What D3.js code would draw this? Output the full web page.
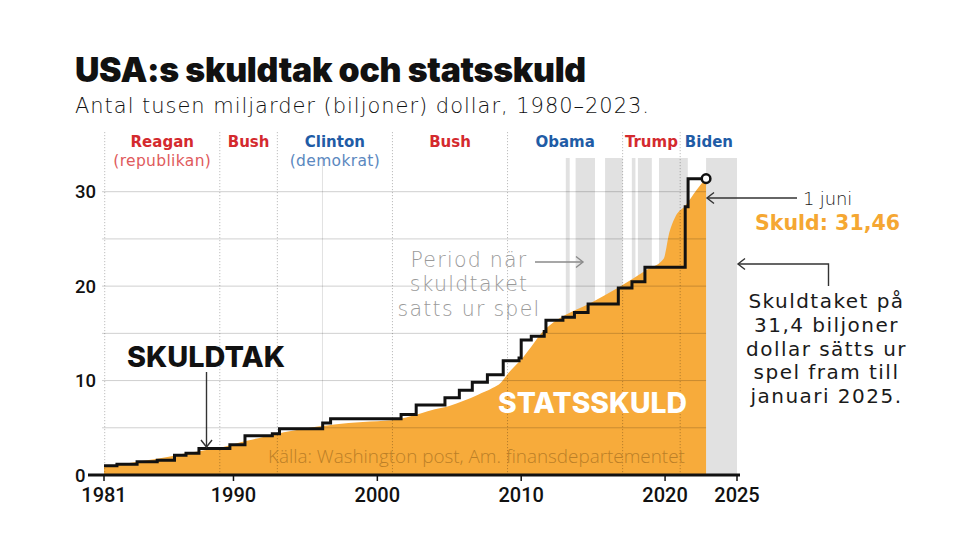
<!DOCTYPE html>
<html><head><meta charset="utf-8">
<script src="https://cdn.jsdelivr.net/npm/d3@7"></script>
<style>html,body{margin:0;padding:0;background:#fff;}svg{display:block;}</style>
</head><body>
<svg id="c" width="980" height="551"></svg>
<script>
// ---- DATA ----
const xTickYears = [1981, 1990, 2000, 2010, 2020, 2025];
const yTickValues = [0, 10, 20, 30];
const gridValues = [5, 10, 15, 20, 25, 30];
const presNames = ["Reagan", "Bush", "Clinton", "Bush", "Obama", "Trump", "Biden"];
const presParty = ["(republikan)", "", "(demokrat)", "", "", "", ""];
const presSide = ["R", "R", "D", "R", "D", "R", "D"];
const presStart = [1981.05, 1989.05, 1993.05, 2001.05, 2009.05, 2017.05, 2021.05];
const presEnd = [1989.05, 1993.05, 2001.05, 2009.05, 2017.05, 2021.05, 2025.05];
// periods when the debt ceiling was suspended [from, to]
const suspendFrom = [1996.15, 2013.10, 2013.78, 2015.83, 2017.69, 2018.11, 2019.58, 2022.85];
const suspendTo   = [1996.22, 2013.37, 2015.13, 2017.05, 2017.94, 2019.08, 2021.58, 2025.0];
// debt ceiling steps (year of change, trillion USD)
const ceilYears = [1981.0, 1981.9, 1983.3, 1984.7, 1985.9, 1986.7, 1987.6, 1989.75, 1990.8, 1992.7, 1993.2, 1996.2, 1996.75, 2001.65, 2002.7, 2004.7, 2005.7, 2006.6, 2007.65, 2008.75, 2009.85, 2010.0, 2010.7, 2011.6, 2011.72, 2012.9, 2013.7, 2014.65, 2016.75, 2017.7, 2018.6, 2021.4, 2021.6, 2022.85];
const ceilValues = [0.99, 1.14, 1.39, 1.57, 2.08, 2.3, 2.8, 3.2, 4.145, 4.37, 4.9, 5.5, 5.95, 6.4, 7.4, 8.18, 8.97, 9.82, 10.62, 12.1, 12.39, 14.29, 14.69, 15.19, 16.39, 16.7, 17.2, 18.11, 19.81, 20.46, 21.99, 28.4, 31.38, 31.38];
// federal debt (trillion USD)
const debtYears = [1981, 1982, 1983, 1984, 1985, 1986, 1987, 1988, 1989, 1990, 1991, 1992, 1993, 1994, 1995, 1996, 1997, 1998, 1999, 2000, 2001, 2002, 2003, 2004, 2005, 2006, 2007, 2008, 2008.6, 2009, 2010.15, 2011.65, 2012.9, 2014.8, 2016.7, 2018.7, 2019.9, 2020.3, 2020.7, 2021.4, 2022.2, 2022.85];
const debtValues = [0.93, 1.1, 1.32, 1.55, 1.8, 2.1, 2.37, 2.62, 2.87, 3.25, 3.65, 4.0, 4.35, 4.65, 4.92, 5.15, 5.35, 5.5, 5.62, 5.7, 5.8, 6.1, 6.5, 6.95, 7.3, 7.85, 8.5, 9.2, 9.8, 10.6, 12.5, 15.4, 16.8, 18.2, 19.8, 21.7, 22.9, 25.7, 27.3, 28.5, 30.2, 31.46];
const debtLast = 31.46;

// ---- SETUP ----
const svg = d3.select("#c");
const x = d3.scaleLinear().domain([1981, 2025]).range([104, 737]);
const y = d3.scaleLinear().domain([0, 30]).range([475, 191.7]);
const ORANGE = "#f7ab3b";
const RED = "#d42a2e", BLUE = "#1f5ca6";
const DV = "'DejaVu Sans', sans-serif";

function fit(sel, w) {
  const L = sel.node().getComputedTextLength();
  const fs = parseFloat(sel.attr("font-size"));
  sel.attr("font-size", fs * w / L);
  return w / L;
}
function spread(sel, w) {
  const L = sel.node().getComputedTextLength();
  sel.attr("letter-spacing", (w - L) / sel.text().length);
}

// title
const title = svg.append("text").attr("x", 75).attr("y", 82)
  .attr("font-family", "Inter, 'Open Sans', sans-serif").attr("font-weight", 900)
  .attr("font-size", 30).attr("fill", "#111").attr("letter-spacing", -0.3)
  .text("USA:s skuldtak och statsskuld");
fit(title, 510);
const sub = svg.append("text").attr("x", 75).attr("y", 112.5)
  .attr("font-family", DV).attr("font-weight", 300)
  .attr("font-size", 21).attr("fill", "#111")
  .text("Antal tusen miljarder (biljoner) dollar, 1980–2023.");
spread(sub, 575);

// suspension bands
const lastX = x(ceilYears[ceilYears.length - 1]);
svg.append("g").selectAll("rect").data(suspendFrom).join("rect")
  .attr("x", (d) => x(d)).attr("width", (d, i) => x(suspendTo[i]) - x(d))
  .attr("y", 158).attr("height", 475 - 158).attr("fill", "#e1e1e1");

// debt area
const debt = debtYears.map((d, i) => [d, debtValues[i]]);
svg.append("path").datum(debt)
  .attr("d", d3.area().x(d => x(d[0])).y0(y(0)).y1(d => y(d[1])).curve(d3.curveMonotoneX))
  .attr("fill", ORANGE);

// gridlines
svg.append("g").selectAll("line").data(gridValues).join("line")
  .attr("x1", 102).attr("x2", lastX).attr("y1", d => y(d)).attr("y2", d => y(d))
  .attr("stroke", "rgba(0,0,0,0.19)").attr("stroke-width", 1);

// president dotted lines
svg.append("g").selectAll("line").data(presStart).join("line")
  .attr("x1", d => x(d)).attr("x2", d => x(d)).attr("y1", 132).attr("y2", 475)
  .attr("stroke", "rgba(0,0,0,0.26)").attr("stroke-width", 1).attr("stroke-dasharray", "1.2,1.8");

// president labels
const nameG = svg.append("g").attr("font-family", DV).attr("font-weight", 700).attr("text-anchor", "middle");
const names = nameG.selectAll("text").data(presNames).join("text")
  .attr("x", (d, i) => x((presStart[i] + presEnd[i]) / 2)).attr("y", 146.5)
  .attr("font-size", 15).attr("fill", (d, i) => presSide[i] === "R" ? RED : BLUE).text(d => d);
const partyG = svg.append("g").attr("font-family", DV).attr("font-weight", 400).attr("text-anchor", "middle");
const parties = partyG.selectAll("text").data(presParty).join("text")
  .attr("x", (d, i) => x((presStart[i] + presEnd[i]) / 2)).attr("y", 165.5)
  .attr("font-size", 15.5).attr("fill", (d, i) => presSide[i] === "R" ? "#e05a5c" : "#5b88c0").text(d => d);
spread(d3.select(parties.nodes()[0]), 98);
d3.select(parties.nodes()[2]).attr("letter-spacing", d3.select(parties.nodes()[0]).attr("letter-spacing"));

// ceiling step line
const ceil = ceilYears.map((d, i) => [d, ceilValues[i]]);
svg.append("path").datum(ceil)
  .attr("d", d3.line().x(d => x(d[0])).y(d => y(d[1])).curve(d3.curveStepAfter))
  .attr("fill", "none").attr("stroke", "#111").attr("stroke-width", 3).attr("stroke-linejoin", "miter");
svg.append("circle").attr("cx", lastX).attr("cy", y(ceilValues[ceilValues.length - 1]))
  .attr("r", 4.3).attr("fill", "#fff").attr("stroke", "#111").attr("stroke-width", 2.5);

// axis baseline + ticks
svg.append("line").attr("x1", 88).attr("x2", 740).attr("y1", y(0)).attr("y2", y(0))
  .attr("stroke", "#111").attr("stroke-width", 3);
svg.append("g").selectAll("line").data(xTickYears).join("line")
  .attr("x1", d => x(d)).attr("x2", d => x(d)).attr("y1", y(0)).attr("y2", y(0) + 6)
  .attr("stroke", "#111").attr("stroke-width", 1.5);
svg.append("g").selectAll("text").data(xTickYears).join("text")
  .attr("x", d => x(d)).attr("y", 501.5).attr("text-anchor", "middle")
  .attr("font-family", "Roboto, sans-serif").attr("font-weight", 500).attr("font-size", 20)
  .attr("fill", "#111").text(d => d);
svg.append("g").selectAll("text").data(yTickValues).join("text")
  .attr("x", 75).attr("y", d => y(d)).attr("dy", "0.36em")
  .attr("font-family", "Roboto, sans-serif").attr("font-weight", 500).attr("font-size", 18.5)
  .attr("fill", "#111").text(d => d);

// arrow helper
function chevron(px, py, dir, col) {
  const s = 5.5, l = 7;
  let p;
  if (dir === "left") p = [[px + l, py - s], [px, py], [px + l, py + s]];
  else if (dir === "right") p = [[px - l, py - s], [px, py], [px - l, py + s]];
  else p = [[px - s, py - l], [px, py], [px + s, py - l]];
  svg.append("path").attr("d", d3.line()(p)).attr("fill", "none").attr("stroke", col || "#333").attr("stroke-width", 1.4);
}

// SKULDTAK
const sk = svg.append("text").attr("x", 127).attr("y", 366.7)
  .attr("font-family", "Inter, sans-serif").attr("font-weight", 800).attr("font-size", 27)
  .attr("fill", "#111").text("SKULDTAK");
fit(sk, 158);
svg.append("line").attr("x1", 206.5).attr("x2", 206.5).attr("y1", 372).attr("y2", 447)
  .attr("stroke", "#333").attr("stroke-width", 1.4);
chevron(206.5, 447, "down");

// STATSSKULD
const st = svg.append("text").attr("x", 498).attr("y", 413)
  .attr("font-family", "Inter, sans-serif").attr("font-weight", 800).attr("font-size", 27)
  .attr("fill", "#fff").text("STATSSKULD");
fit(st, 189);

// source
const src = svg.append("text").attr("x", 268).attr("y", 463)
  .attr("font-family", "'Open Sans', sans-serif").attr("font-weight", 300).attr("font-size", 16)
  .attr("fill", "#bb7f27").text("Källa: Washington post, Am. finansdepartementet");
fit(src, 417);

// multi-line text block: size chosen so lines do not collide, letter-spacing fills the width
function block(lines, cx, by, lh, fs, weight, fill, widestIdx, targetW) {
  const t = svg.append("g").attr("font-family", DV).attr("font-weight", weight)
    .attr("fill", fill).attr("text-anchor", "middle").attr("font-size", fs);
  const rows = t.selectAll("text").data(lines).join("text")
    .attr("x", cx).attr("y", (d, i) => by + i * lh).text(d => d);
  const L = rows.nodes()[widestIdx].getComputedTextLength();
  rows.attr("letter-spacing", (targetW - L) / lines[widestIdx].length);
  return t;
}

// Period label
block(["Period när", "skuldtaket", "satts ur spel"], 469, 266.7, 24.4, 20.5, 300, "#9a9a9a", 2, 143);
svg.append("line").attr("x1", 535).attr("x2", 583).attr("y1", 262).attr("y2", 262)
  .attr("stroke", "#8a8a8a").attr("stroke-width", 1.3);
chevron(583, 262, "right", "#8a8a8a");

// 1 juni annotation
svg.append("line").attr("x1", 797).attr("x2", 707).attr("y1", 198).attr("y2", 198)
  .attr("stroke", "#333").attr("stroke-width", 1.4);
chevron(707, 198, "left");
const jn = svg.append("text").attr("x", 803).attr("y", 205)
  .attr("font-family", DV).attr("font-weight", 300).attr("font-size", 18)
  .attr("fill", "#222").text("1 juni");
spread(jn, 49);
const sd = svg.append("text").attr("x", 755).attr("y", 230)
  .attr("font-family", DV).attr("font-weight", 700).attr("font-size", 20.5)
  .attr("fill", "#f5a732").text("Skuld: " + d3.format(".2f")(debtLast).replace(".", ","));
spread(sd, 145);

// right annotation
svg.append("path").attr("d", d3.line()([[828.5, 286], [828.5, 264], [738, 264]]))
  .attr("fill", "none").attr("stroke", "#333").attr("stroke-width", 1.4);
chevron(738, 264, "left");
block(["Skuldtaket på", "31,4 biljoner", "dollar sätts ur", "spel fram till", "januari 2025."],
  826.5, 308.3, 23.7, 20, 400, "#1a1a1a", 2, 161);
</script>
</body></html>
